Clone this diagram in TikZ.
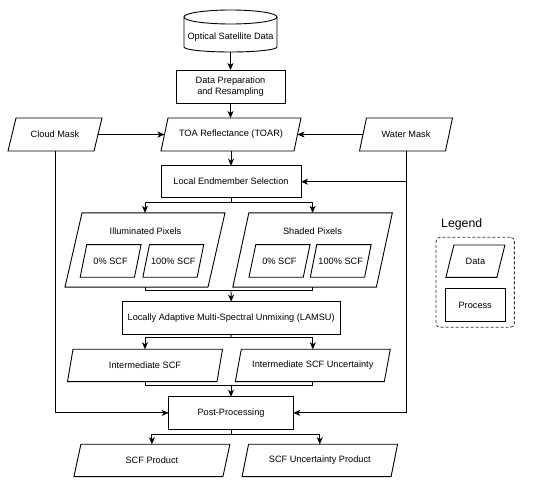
\documentclass[tikz,border=0pt]{standalone}
\usepackage{fontspec}
\setmainfont{Liberation Sans}
\usetikzlibrary{arrows.meta}
\begin{document}
\begin{tikzpicture}[x=1pt,y=-1pt,
  every node/.style={font=\fontsize{9.2}{10.8}\selectfont, inner sep=0pt, outer sep=0pt, align=center},
  line/.style={line width=0.9pt, draw=black},
  arr/.style={line, -{Stealth[length=7pt,width=6pt,inset=2pt]}},
  proc/.style={line, rectangle},
  data/.style={rectangle},
]
\useasboundingbox (0,0) rectangle (550,484);
% cylinder
\node[minimum width=93pt, minimum height=42pt] (osd) at (230.5,31) {};
\node (osdlbl) at (230.5,37.5) {Optical Satellite Data};
\draw[line] ([yshift=-7pt]osd.north west) -- ([yshift=5pt]osd.south west)
  arc[start angle=180, end angle=360, x radius=46.5pt, y radius=5pt]
  -- ([yshift=-7pt]osd.north east);
\draw[line] ([yshift=-7pt]osd.north) ellipse[x radius=46.5pt, y radius=7pt];

\node[proc, minimum width=109pt, minimum height=33pt] (dp) at (230.5,86.5) {Data Preparation\\and Resampling};
\node[data, minimum width=133pt, minimum height=33pt] (toar) at (231,134.5) {TOA Reflectance (TOAR)};
\node[data, minimum width=86pt, minimum height=33pt] (cloud) at (55,134.5) {Cloud Mask};
\node[data, minimum width=86pt, minimum height=33pt] (water) at (406,134.5) {Water Mask};
\node[proc, minimum width=140pt, minimum height=32pt] (les) at (231,181.7) {Local Endmember Selection};

\node[data, minimum width=143pt, minimum height=74.3pt] (illum) at (145,250) {};
\node (illumlbl) at (145.5,231.7) {Illuminated Pixels};
\node[data, minimum width=54.3pt, minimum height=32.6pt] (i0) at (110.6,261) {0\% SCF};
\node[data, minimum width=54.3pt, minimum height=32.6pt] (i100) at (173.3,261) {100\% SCF};

\node[data, minimum width=143.5pt, minimum height=74.3pt] (shaded) at (312.6,250) {};
\node (shadedlbl) at (312.5,231.7) {Shaded Pixels};
\node[data, minimum width=54.3pt, minimum height=32.6pt] (s0) at (279.5,261) {0\% SCF};
\node[data, minimum width=54.3pt, minimum height=32.6pt] (s100) at (340.7,261) {100\% SCF};

\node[proc, minimum width=217.7pt, minimum height=32.6pt] (lamsu) at (231.2,318) {Locally Adaptive Multi-Spectral Unmixing (LAMSU)};
\node[data, minimum width=149.5pt, minimum height=32.4pt] (iscf) at (145,365.5) {Intermediate SCF};
\node[data, minimum width=149pt, minimum height=32.4pt] (iunc) at (312.8,365.5) {Intermediate SCF Uncertainty};
\node[proc, minimum width=124.6pt, minimum height=32.3pt] (pp) at (231,412.9) {Post-Processing};
\node[data, minimum width=149pt, minimum height=32.4pt] (prod) at (151.9,460.5) {SCF Product};
\node[data, minimum width=149pt, minimum height=32.4pt] (uprod) at (319.8,460.5) {SCF Uncertainty Product};

% legend
\node[font=\fontsize{12.3}{14}\selectfont] (legtitle) at (461.7,224.5) {Legend};
\node[draw, line width=0.8pt, draw=black!80, dash pattern=on 3pt off 2pt, rounded corners=4pt,
      minimum width=78.3pt, minimum height=90pt] (legbox) at (475.2,282.3) {};
\node[data, minimum width=51pt, minimum height=32.3pt] (legdata) at (475.4,261.2) {Data};
\node[proc, minimum width=59.7pt, minimum height=33.4pt] (legproc) at (475.2,305) {Process};

% parallelogram outlines of the data nodes
\foreach \n/\s in {toar/7, cloud/8, water/7, illum/17, shaded/16, i0/6.6, i100/6.6, s0/6.8, s100/6.5,
                   iscf/5.5, iunc/6, prod/7, uprod/6.5, legdata/8}{
  \draw[line] ([xshift=\s*0.5pt]\n.north west) -- ([xshift=\s*0.5pt]\n.north east)
    -- ([xshift=-\s*0.5pt]\n.south east) -- ([xshift=-\s*0.5pt]\n.south west) -- cycle;
}

% junctions
\coordinate (j1) at (231,202);
\coordinate (j2) at (231,290.3);
\coordinate (j3) at (231,337.3);
\coordinate (j4) at (231,385.7);
\coordinate (j5) at (231,434);

% connectors
\draw[arr] (osd.south) -- (dp.north);
\draw[arr] (dp.south) -- (toar.north -| dp.south);
\draw[arr] (cloud) -- (toar);
\draw[arr] (water) -- (toar);
\draw[arr] (toar.south) -- (les.north);
\draw[arr] (water.south) -- (water.center |- les.east) -- (les.east);
\draw[arr] (water.center |- les.east) -- (water.center |- pp.east) -- (pp.east);
\draw[arr] (cloud.south) -- (cloud.center |- pp.west) -- (pp.west);

\draw[line] (les.south) -- (j1);
\draw[arr] (j1) -| (illum.north);
\draw[arr] (j1) -| (shaded.north);

\draw[line] (illum.south) |- (j2) -| (shaded.south);
\draw[arr] (j2) -- (lamsu.north);

\draw[line] (lamsu.south) -- (j3);
\draw[arr] (j3) -| (iscf.north);
\draw[arr] (j3) -| (iunc.north);

\draw[line] (iscf.south) |- (j4) -| (iunc.south);
\draw[arr] (j4) -- (pp.north);

\draw[line] (pp.south) -- (j5);
\draw[arr] (j5) -| (prod.north);
\draw[arr] (j5) -| (uprod.north);
\end{tikzpicture}
\end{document}
